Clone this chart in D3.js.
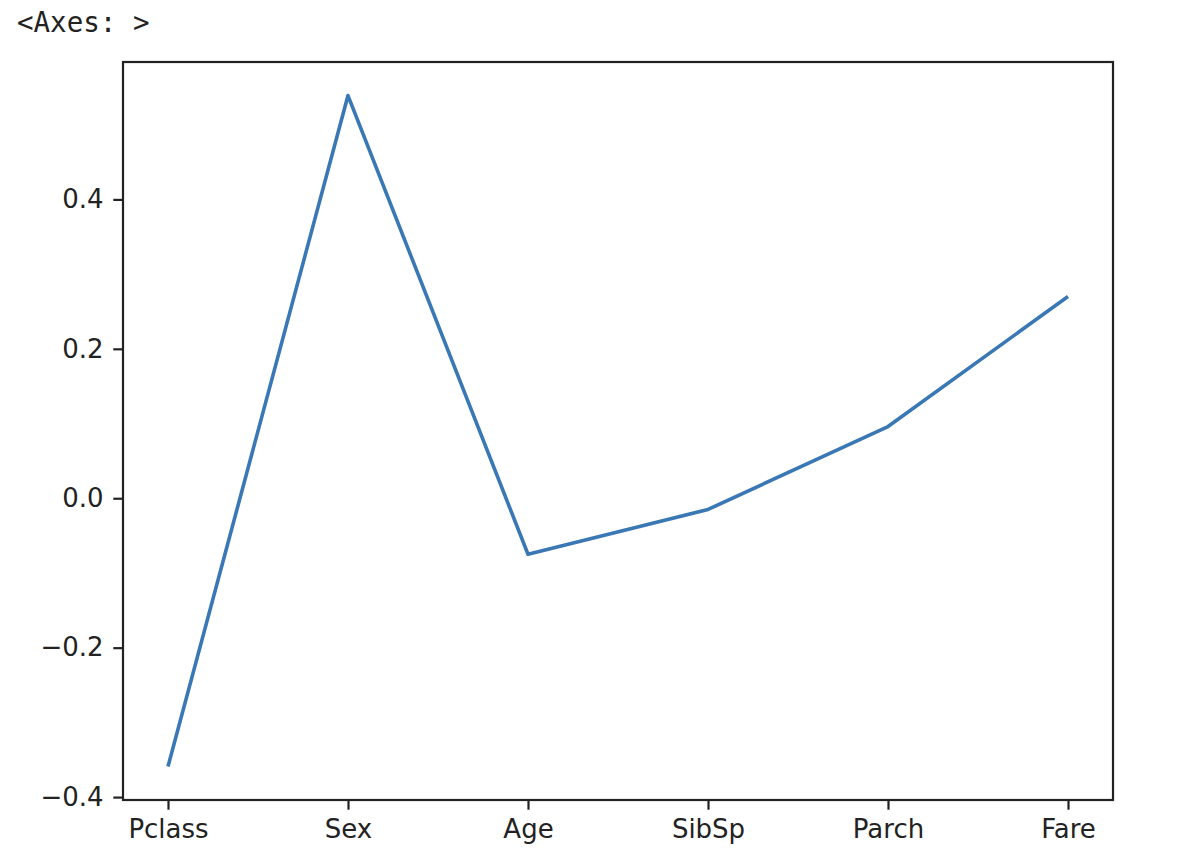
<!DOCTYPE html>
<html><head><meta charset="utf-8">
<script src="https://cdn.jsdelivr.net/npm/d3@7"></script>
<style>
html,body{margin:0;padding:0;background:#fff;}
</style></head>
<body>
<svg id="chart" width="1196" height="866"></svg>
<script>
const categories = ["Pclass", "Sex", "Age", "SibSp", "Parch", "Fare"];
const values = [-0.359, 0.539, -0.075, -0.015, 0.096, 0.270];
const yTicks = [-0.4, -0.2, 0.0, 0.2, 0.4];
const title = "<Axes: >";

const svg = d3.select("#chart");
const L = 123, R = 1113, T = 62, B = 800;

const x = d3.scaleLinear().domain([-0.25, categories.length - 1 + 0.25]).range([L, R]);
const ymin = d3.min(values), ymax = d3.max(values);
const pad = (ymax - ymin) * 0.05;
const y = d3.scaleLinear().domain([ymin - pad, ymax + pad]).range([B, T]);

svg.append("text").attr("x", 17).attr("y", 32)
  .attr("font-family", "DejaVu Sans Mono, monospace").attr("font-size", 27.5)
  .attr("fill", "#222").text(title);

const fmt = v => (v < 0 ? "\u2212" : "") + Math.abs(v).toFixed(1);

const yAxis = d3.axisLeft(y).tickValues(yTicks).tickFormat(fmt).tickSize(9.7).tickPadding(9.7);
const gy = svg.append("g").attr("transform", `translate(${L},0)`).call(yAxis);
const xAxis = d3.axisBottom(x).tickValues(d3.range(categories.length)).tickFormat(i => categories[i]).tickSize(9.7).tickPadding(9.7);
const gx = svg.append("g").attr("transform", `translate(0,${B})`).call(xAxis);
[gx, gy].forEach(g => {
  g.select(".domain").remove();
  g.selectAll(".tick line").attr("stroke", "#222").attr("stroke-width", 2.2);
  g.selectAll(".tick text").attr("fill", "#222").attr("font-family", "DejaVu Sans, sans-serif").attr("font-size", 26);
});

const line = d3.line().x((d, i) => x(i)).y(d => y(d));
svg.append("path").datum(values).attr("d", line)
  .attr("fill", "none").attr("stroke", "#3a78b5").attr("stroke-width", 3.6)
  .attr("stroke-linejoin", "round").attr("stroke-linecap", "butt");

svg.append("rect").attr("x", L).attr("y", T).attr("width", R - L).attr("height", B - T)
  .attr("fill", "none").attr("stroke", "#222").attr("stroke-width", 2.2);
</script>
</body></html>
